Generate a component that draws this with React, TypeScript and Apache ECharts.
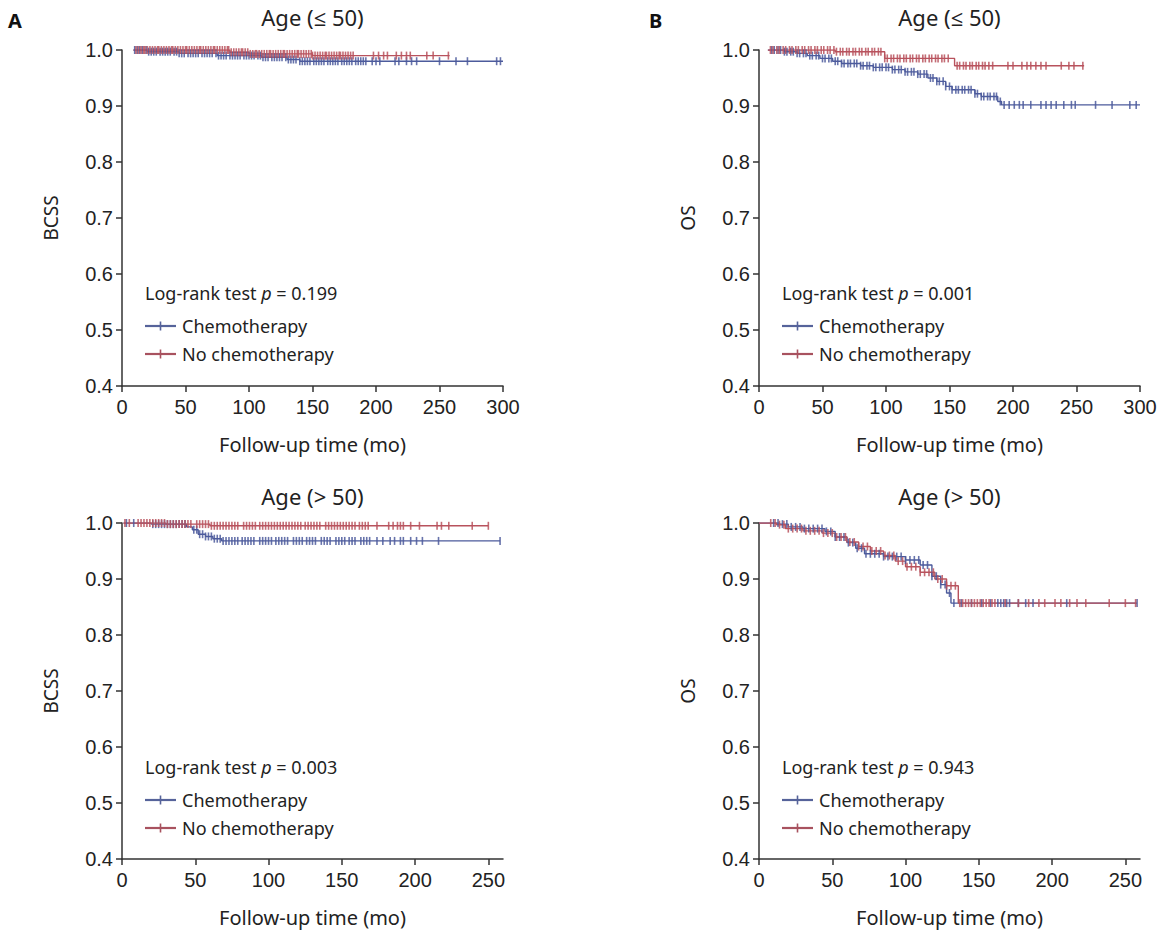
import React, { useEffect, useRef } from "react";
import * as echarts from "echarts";

// ---------- DATA ----------
const panelLetters = ["A", "B"];
const panelTitles = ["Age (≤ 50)", "Age (≤ 50)", "Age (> 50)", "Age (> 50)"];
const yAxisNames = ["BCSS", "OS", "BCSS", "OS"];
const xAxisName = "Follow-up time (mo)";
const pValues = ["0.199", "0.001", "0.003", "0.943"];
const groupNames = ["Chemotherapy", "No chemotherapy"];
const xMaxes = [300, 300, 260, 260];
const xTicksTop = [0, 50, 100, 150, 200, 250, 300];
const xTicksBottom = [0, 50, 100, 150, 200, 250];
const yTicks = [0.4, 0.5, 0.6, 0.7, 0.8, 0.9, 1.0];

// Kaplan–Meier steps [time, survival]
// Panel A top: BCSS, age <= 50
const aTopChemoSteps = [[9, 1.0], [20, 0.997], [45, 0.994], [75, 0.99], [110, 0.987], [130, 0.983], [140, 0.98], [300, 0.98]];
const aTopNoChemoSteps = [[9, 1.0], [85, 0.996], [100, 0.993], [150, 0.99], [258, 0.99]];
const aTopChemoCensors = [10, 12, 14, 16, 19, 21, 23, 25, 27, 30, 32, 34, 36, 38, 41, 43, 45, 47, 49, 52, 54, 56, 58, 60, 63, 65, 67, 69, 71, 74, 76, 78, 80, 82, 85, 87, 89, 91, 93, 96, 98, 100, 102, 104, 107, 109, 111, 113, 115, 118, 120, 122, 124, 126, 129, 131, 133, 135, 137, 140, 142, 144, 146, 148, 151, 153, 155, 157, 159, 162, 164, 166, 168, 170, 173, 175, 177, 179, 181, 184, 186, 188, 190, 192, 197, 200, 203, 215, 218, 224, 228, 232, 250, 263, 272, 295, 298];
const aTopNoChemoCensors = [11, 13, 15, 17, 18, 20, 22, 24, 26, 28, 29, 31, 33, 35, 37, 39, 40, 42, 44, 46, 48, 50, 51, 53, 55, 57, 59, 61, 62, 64, 66, 68, 70, 72, 73, 75, 77, 79, 81, 83, 84, 86, 88, 90, 92, 94, 95, 97, 99, 101, 103, 105, 106, 108, 110, 112, 114, 116, 117, 119, 121, 123, 125, 127, 128, 130, 132, 134, 136, 138, 139, 141, 143, 145, 147, 149, 150, 152, 154, 156, 158, 160, 161, 163, 165, 167, 169, 171, 172, 174, 176, 178, 180, 182, 198, 202, 206, 209, 216, 220, 224, 227, 240, 245, 257];

// Panel B top: OS, age <= 50
const bTopChemoSteps = [[7, 1.0], [20, 0.997], [30, 0.994], [38, 0.99], [48, 0.985], [58, 0.98], [65, 0.976], [80, 0.972], [90, 0.969], [105, 0.965], [115, 0.961], [125, 0.957], [133, 0.95], [140, 0.944], [147, 0.935], [152, 0.929], [170, 0.922], [175, 0.917], [188, 0.908], [191, 0.902], [300, 0.902]];
const bTopNoChemoSteps = [[7, 1.0], [60, 0.997], [99, 0.985], [154, 0.972], [256, 0.972]];
const bTopChemoCensors = [10, 12, 15, 17, 20, 22, 25, 27, 30, 32, 35, 37, 40, 42, 45, 47, 50, 52, 55, 57, 60, 62, 65, 67, 70, 72, 75, 77, 80, 82, 85, 87, 90, 92, 95, 97, 100, 102, 105, 107, 110, 112, 115, 117, 120, 122, 125, 127, 130, 132, 135, 137, 140, 142, 145, 147, 150, 152, 155, 157, 160, 162, 165, 167, 170, 172, 175, 177, 180, 182, 185, 187, 190, 193, 197, 201, 205, 208, 214, 222, 226, 230, 234, 240, 246, 249, 265, 278, 292, 297];
const bTopNoChemoCensors = [9, 11, 14, 16, 19, 21, 24, 26, 29, 31, 34, 36, 39, 41, 44, 46, 49, 51, 54, 56, 59, 61, 64, 66, 69, 71, 74, 76, 79, 81, 84, 86, 89, 91, 94, 96, 99, 101, 104, 106, 109, 111, 114, 116, 119, 121, 124, 126, 129, 131, 134, 136, 139, 141, 144, 146, 149, 156, 158, 161, 163, 166, 168, 171, 173, 176, 178, 181, 184, 196, 200, 207, 211, 214, 218, 222, 226, 238, 244, 248, 255];

// Panel A bottom: BCSS, age > 50
const aBotChemoSteps = [[1, 1.0], [20, 0.998], [44, 0.993], [48, 0.988], [52, 0.98], [57, 0.976], [62, 0.972], [68, 0.968], [258, 0.968]];
const aBotNoChemoSteps = [[1, 1.0], [30, 0.998], [60, 0.995], [250, 0.995]];
const aBotChemoCensors = [3, 8, 21, 23, 25, 27, 29, 31, 33, 35, 37, 39, 41, 43, 49, 51, 53, 55, 57, 59, 61, 63, 65, 67, 69, 71, 73, 75, 77, 79, 82, 84, 86, 88, 90, 94, 96, 98, 100, 102, 105, 107, 109, 111, 113, 117, 119, 121, 123, 126, 128, 130, 132, 136, 138, 140, 142, 146, 148, 150, 152, 155, 157, 159, 163, 165, 167, 169, 174, 178, 183, 186, 190, 192, 197, 201, 205, 216, 258];
const aBotNoChemoCensors = [2, 5, 11, 13, 15, 17, 19, 21, 23, 25, 27, 29, 31, 33, 35, 37, 39, 41, 43, 45, 47, 51, 53, 55, 57, 59, 61, 63, 65, 67, 69, 71, 73, 75, 77, 79, 83, 85, 87, 89, 91, 94, 96, 98, 100, 102, 104, 106, 108, 110, 112, 114, 116, 118, 120, 122, 125, 127, 129, 131, 133, 135, 139, 141, 143, 145, 147, 149, 151, 153, 155, 157, 159, 162, 164, 166, 168, 174, 182, 185, 188, 190, 192, 197, 203, 215, 218, 223, 239, 250];

// Panel B bottom: OS, age > 50
const bBotChemoSteps = [[0, 1.0], [14, 0.998], [20, 0.993], [30, 0.99], [45, 0.985], [52, 0.975], [60, 0.965], [66, 0.955], [72, 0.945], [85, 0.94], [100, 0.934], [110, 0.925], [118, 0.905], [124, 0.89], [128, 0.875], [131, 0.857], [258, 0.857]];
const bBotNoChemoSteps = [[0, 1.0], [12, 0.997], [18, 0.99], [30, 0.986], [43, 0.982], [52, 0.975], [60, 0.966], [68, 0.958], [76, 0.95], [85, 0.942], [93, 0.932], [100, 0.922], [110, 0.912], [120, 0.9], [128, 0.888], [136, 0.857], [257, 0.857]];
const bBotChemoCensors = [10, 13, 16, 19, 22, 25, 28, 31, 34, 37, 40, 43, 46, 49, 52, 55, 58, 61, 64, 67, 70, 73, 76, 79, 82, 85, 88, 91, 94, 97, 100, 103, 106, 109, 112, 115, 118, 121, 124, 127, 130, 133, 138, 145, 152, 158, 163, 165, 167, 169, 171, 177, 182, 187, 210, 258];
const bBotNoChemoCensors = [8, 11, 14, 17, 20, 23, 26, 29, 32, 35, 38, 41, 44, 47, 50, 53, 56, 59, 62, 65, 68, 71, 74, 77, 80, 83, 86, 89, 92, 95, 98, 101, 104, 107, 110, 113, 116, 119, 122, 125, 128, 131, 134, 137, 139, 141, 143, 145, 147, 149, 151, 153, 155, 157, 159, 161, 168, 177, 184, 191, 195, 202, 206, 212, 217, 223, 239, 250, 257];

const panelSteps = [
  [aTopChemoSteps, aTopNoChemoSteps],
  [bTopChemoSteps, bTopNoChemoSteps],
  [aBotChemoSteps, aBotNoChemoSteps],
  [bBotChemoSteps, bBotNoChemoSteps],
];
const panelCensors = [
  [aTopChemoCensors, aTopNoChemoCensors],
  [bTopChemoCensors, bTopNoChemoCensors],
  [aBotChemoCensors, aBotNoChemoCensors],
  [bBotChemoCensors, bBotNoChemoCensors],
];

// ---------- STYLE / LAYOUT ----------
const COLORS = ["#4c5b9c", "#b8525d"];
const LEGEND_COLORS = ["#56639a", "#a8525f"];
const AXIS_COLOR = "#333";
const TEXT_COLOR = "#222";
const SANS = "'Noto Sans', 'Open Sans', sans-serif";
const TICK_FONT = "'Liberation Sans', Arial, sans-serif";
const GRID_LEFT = [122, 759, 122, 759];
const GRID_TOP = [50, 50, 523, 523];
const GRID_W = 381;
const GRID_H = 336;

function survivalAt(steps: number[][], t: number): number {
  let s = steps[0][1];
  for (const [time, val] of steps) {
    if (time <= t) s = val;
    else break;
  }
  return s;
}

function buildOption() {
  const grid: any[] = [];
  const xAxis: any[] = [];
  const yAxis: any[] = [];
  const series: any[] = [];
  const graphic: any[] = [];

  for (let p = 0; p < 4; p++) {
    grid.push({ left: GRID_LEFT[p], top: GRID_TOP[p], width: GRID_W, height: GRID_H, containLabel: false });
    const xTicks = xMaxes[p] === 300 ? xTicksTop : xTicksBottom;
    xAxis.push({
      type: "value",
      gridIndex: p,
      min: 0,
      max: xMaxes[p],
      interval: 50,
      name: xAxisName,
      nameLocation: "middle",
      nameGap: 48,
      nameTextStyle: { fontFamily: SANS, fontSize: 20, color: TEXT_COLOR },
      axisLine: { show: true, onZero: false, lineStyle: { color: AXIS_COLOR, width: 1.5 } },
      axisTick: { show: true, length: 6, customValues: xTicks, lineStyle: { color: AXIS_COLOR, width: 1.5 } },
      axisLabel: { customValues: xTicks, fontFamily: TICK_FONT, fontSize: 20, color: TEXT_COLOR, margin: 11 },
      splitLine: { show: false },
    });
    yAxis.push({
      type: "value",
      gridIndex: p,
      min: 0.4,
      max: 1.0,
      interval: 0.1,
      name: yAxisNames[p],
      nameLocation: "middle",
      nameGap: 62,
      nameTextStyle: { fontFamily: SANS, fontSize: 19, color: TEXT_COLOR },
      axisLine: { show: true, onZero: false, lineStyle: { color: AXIS_COLOR, width: 1.5 } },
      axisTick: { show: true, length: 6, customValues: yTicks, lineStyle: { color: AXIS_COLOR, width: 1.5 } },
      axisLabel: {
        customValues: yTicks,
        fontFamily: TICK_FONT,
        fontSize: 20,
        color: TEXT_COLOR,
        margin: 9,
        formatter: (v: number) => v.toFixed(1),
      },
      splitLine: { show: false },
    });

    for (let g = 0; g < 2; g++) {
      const steps = panelSteps[p][g];
      series.push({
        type: "line",
        name: groupNames[g],
        xAxisIndex: p,
        yAxisIndex: p,
        step: "end",
        showSymbol: false,
        symbol: "none",
        data: steps,
        lineStyle: { color: COLORS[g], width: 1.4 },
        z: 2 + g,
      });
      series.push({
        type: "scatter",
        name: groupNames[g] + " censored",
        xAxisIndex: p,
        yAxisIndex: p,
        symbol: "rect",
        symbolSize: [1.6, 8],
        data: panelCensors[p][g].map((t) => [t, survivalAt(steps, t)]),
        itemStyle: { color: COLORS[g], opacity: 0.85 },
        z: 4 + g,
      });
    }

    // title
    const cx = GRID_LEFT[p] + GRID_W / 2;
    const titleY = p < 2 ? 17 : 496;
    graphic.push({
      type: "text",
      x: cx,
      y: titleY,
      style: {
        text: panelTitles[p],
        fontFamily: SANS,
        fontSize: 22,
        fill: TEXT_COLOR,
        align: "center",
        verticalAlign: "middle",
      },
    });

    // legend block
    const lx = GRID_LEFT[p] + 23;
    const baseY = p < 2 ? 293 : 767;
    graphic.push({
      type: "text",
      x: lx,
      y: baseY,
      style: {
        text: "{a|Log-rank test }{i|p}{a| = " + pValues[p] + "}",
        verticalAlign: "middle",
        rich: {
          a: { fontFamily: SANS, fontSize: 18, fill: TEXT_COLOR },
          i: { fontFamily: SANS, fontSize: 18, fill: TEXT_COLOR, fontStyle: "italic" },
        },
      },
    });
    for (let g = 0; g < 2; g++) {
      const ly = baseY + 33 + g * 28;
      graphic.push({
        type: "line",
        shape: { x1: lx, y1: ly, x2: lx + 31, y2: ly },
        style: { stroke: LEGEND_COLORS[g], lineWidth: 2.2 },
      });
      graphic.push({
        type: "line",
        shape: { x1: lx + 15.5, y1: ly - 4.5, x2: lx + 15.5, y2: ly + 4.5 },
        style: { stroke: LEGEND_COLORS[g], lineWidth: 1.6 },
      });
      graphic.push({
        type: "text",
        x: lx + 37,
        y: ly,
        style: {
          text: groupNames[g],
          fontFamily: SANS,
          fontSize: 18,
          fill: TEXT_COLOR,
          verticalAlign: "middle",
        },
      });
    }
  }

  // panel letters
  graphic.push({
    type: "text",
    x: 8,
    y: 20,
    style: { text: panelLetters[0], fontFamily: SANS, fontWeight: "bold", fontSize: 20, fill: "#111", verticalAlign: "middle" },
  });
  graphic.push({
    type: "text",
    x: 649,
    y: 20,
    style: { text: panelLetters[1], fontFamily: SANS, fontWeight: "bold", fontSize: 20, fill: "#111", verticalAlign: "middle" },
  });

  return {
    animation: false,
    backgroundColor: "#ffffff",
    grid,
    xAxis,
    yAxis,
    series,
    graphic,
  };
}

export default function App() {
  const ref = useRef<HTMLDivElement>(null);
  useEffect(() => {
    if (!ref.current) return;
    const chart = echarts.init(ref.current, undefined, { renderer: "svg" });
    chart.setOption(buildOption() as any);
    return () => chart.dispose();
  }, []);
  return (
    <div
      ref={ref}
      style={{ position: "fixed", left: 0, top: 0, width: 1162, height: 930, background: "#fff" }}
    />
  );
}
